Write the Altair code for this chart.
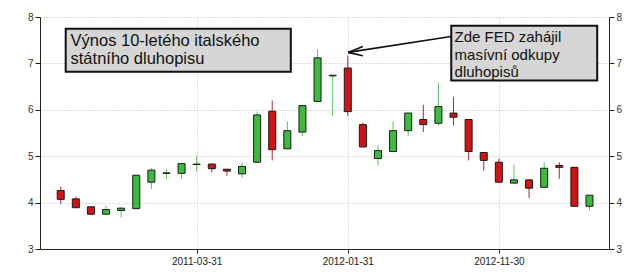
import altair as alt
import pandas as pd

# ---- data (monthly candles, Italian 10y bond yield) ----
MONTHS = ["2010-06", "2010-07", "2010-08", "2010-09", "2010-10", "2010-11",
          "2010-12", "2011-01", "2011-02", "2011-03", "2011-04", "2011-05",
          "2011-06", "2011-07", "2011-08", "2011-09", "2011-10", "2011-11",
          "2011-12", "2012-01", "2012-02", "2012-03", "2012-04", "2012-05",
          "2012-06", "2012-07", "2012-08", "2012-09", "2012-10", "2012-11",
          "2012-12", "2013-01", "2013-02", "2013-03", "2013-04", "2013-05"]
OPEN = [4.26, 4.08, 3.91, 3.75, 3.83, 3.87, 4.44, 4.63, 4.63, 4.82, 4.83, 4.72,
        4.62, 4.87, 5.97, 5.16, 5.52, 6.18, 6.73, 6.90, 5.68, 4.95, 5.10, 5.55,
        5.79, 5.71, 5.93, 5.79, 5.08, 4.87, 4.42, 4.49, 4.33, 4.80, 4.76, 3.92]
HIGH = [4.34, 4.13, 3.92, 3.94, 3.90, 4.60, 4.75, 4.72, 4.85, 5.01, 4.84, 4.72,
        4.87, 5.96, 6.20, 5.75, 6.10, 7.30, 6.75, 7.17, 5.72, 5.23, 5.75, 5.93,
        6.11, 6.59, 6.28, 5.80, 5.09, 4.95, 4.82, 4.50, 4.87, 4.87, 4.77, 4.17]
LOW = [3.97, 3.88, 3.73, 3.73, 3.68, 3.86, 4.29, 4.51, 4.51, 4.67, 4.65, 4.58,
       4.53, 4.86, 4.91, 5.15, 5.43, 6.17, 5.87, 5.87, 5.19, 4.80, 5.09, 5.43,
       5.52, 5.66, 5.66, 4.91, 4.69, 4.44, 4.41, 4.10, 4.33, 4.51, 3.92, 3.83]
CLOSE = [4.07, 3.89, 3.75, 3.85, 3.88, 4.59, 4.70, 4.64, 4.84, 4.83, 4.73, 4.68,
         4.78, 5.89, 5.14, 5.55, 6.09, 7.12, 6.745, 5.96, 5.20, 5.12, 5.55, 5.93,
         5.68, 6.07, 5.84, 5.10, 4.91, 4.44, 4.49, 4.31, 4.74, 4.76, 3.92, 4.16]

TICK_MONTHS = ["2011-03", "2012-01", "2012-11"]
TICK_LABELS = ["2011-03-31", "2012-01-31", "2012-11-30"]
Y_TICKS = [3, 4, 5, 6, 7, 8]

TEXT_1 = "Výnos 10-letého italského\nstátního dluhopisu"
TEXT_2 = "Zde FED zahájil\nmasívní odkupy\ndluhopisů"

df = pd.DataFrame({"month": MONTHS, "open": OPEN, "high": HIGH,
                   "low": LOW, "close": CLOSE})
df["idx"] = range(len(df))
df["dir"] = ["down" if c < o else "up" for o, c in zip(OPEN, CLOSE)]

tick_idx = [MONTHS.index(m) for m in TICK_MONTHS]
label_expr = " : ".join(
    f"datum.value == {i} ? '{l}'" for i, l in zip(tick_idx, TICK_LABELS)) + " : ''"

FONT = "Liberation Sans"
x_scale = alt.Scale(domain=[-1.04, 35.96], nice=False, zero=False)
y_scale = alt.Scale(domain=[3, 8], nice=False, zero=False)

x_axis = alt.Axis(values=tick_idx, labelExpr=label_expr, title=None,
                  grid=True, gridDash=[1, 2], gridColor="#bdbdbd",
                  domainColor="#222", tickColor="#222", tickSize=4,
                  labelFont=FONT, labelFontSize=10, labelColor="#222",
                  labelPadding=3, labelFlush=False)
axis_common = dict(values=Y_TICKS, title=None, domainColor="#222",
                   tickColor="#222", tickSize=5, labelFont=FONT,
                   labelFontSize=10, labelColor="#333", labelPadding=2,
                   format="d")
y_left = alt.Axis(orient="left", grid=True, gridDash=[1, 2],
                  gridColor="#bdbdbd", **axis_common)
y_right = alt.Axis(orient="right", grid=False, **axis_common)

dir_scale_wick = alt.Scale(domain=["up", "down"], range=["#5cc45c", "#b02a2a"])
dir_scale_body = alt.Scale(domain=["up", "down"], range=["#3dbb3d", "#d01414"])


def X(field):
    return alt.X(field, scale=x_scale, axis=x_axis)


base = alt.Chart(df)
wicks = base.mark_rule(strokeWidth=1).encode(
    x=X("idx:Q"),
    y=alt.Y("low:Q", scale=y_scale, axis=y_left),
    y2="high:Q",
    color=alt.Color("dir:N", scale=dir_scale_wick, legend=None),
)
bodies = base.mark_bar(size=7, stroke="#1a1a1a", strokeWidth=1).encode(
    x=X("idx:Q"),
    y=alt.Y("open:Q", scale=y_scale, axis=y_right),
    y2="close:Q",
    fill=alt.Fill("dir:N", scale=dir_scale_body, legend=None),
)

# ---- annotations (in data coordinates) ----
boxes = pd.DataFrame({"x": [0.33, 25.85], "x2": [15.23, 35.51],
                      "y": [6.821, 6.634], "y2": [7.748, 7.813]})
box_layer = alt.Chart(boxes).mark_rect(fill="#d6d6d6", stroke="#111",
                                       strokeWidth=2).encode(
    x=X("x:Q"), x2="x2:Q",
    y=alt.Y("y:Q", scale=y_scale, axis=None), y2="y2:Q")

txt1 = alt.Chart(pd.DataFrame({"x": [0.65], "y": [7.366], "t": [TEXT_1]})).mark_text(
    align="left", baseline="alphabetic", font=FONT, fontSize=16.5,
    lineHeight=18, lineBreak="\n", color="#111").encode(
    x=X("x:Q"),
    y=alt.Y("y:Q", scale=y_scale, axis=None), text="t:N")
txt2 = alt.Chart(pd.DataFrame({"x": [26.07], "y": [7.453], "t": [TEXT_2]})).mark_text(
    align="left", baseline="alphabetic", font=FONT, fontSize=15,
    lineHeight=17.3, lineBreak="\n", color="#111").encode(
    x=X("x:Q"),
    y=alt.Y("y:Q", scale=y_scale, axis=None), text="t:N")

arrow = pd.DataFrame({"x": [25.83, 19.02, 19.02], "y": [7.58, 7.237, 7.237],
                      "x2": [19.02, 19.995, 19.995], "y2": [7.237, 7.366, 7.166]})
arrow_layer = alt.Chart(arrow).mark_rule(color="#111", strokeWidth=1.6).encode(
    x=X("x:Q"), x2="x2:Q",
    y=alt.Y("y:Q", scale=y_scale, axis=None), y2="y2:Q")

chart = alt.layer(wicks, bodies, box_layer, txt1, txt2, arrow_layer).resolve_axis(
    y="independent").properties(
    width=569, height=232,
    padding={"left": 40, "top": 17, "right": 31, "bottom": 29},
    autosize="none", background="white",
).configure_view(stroke=None)

chart.save("out.html", embed_options={"renderer": "svg", "actions": False})
